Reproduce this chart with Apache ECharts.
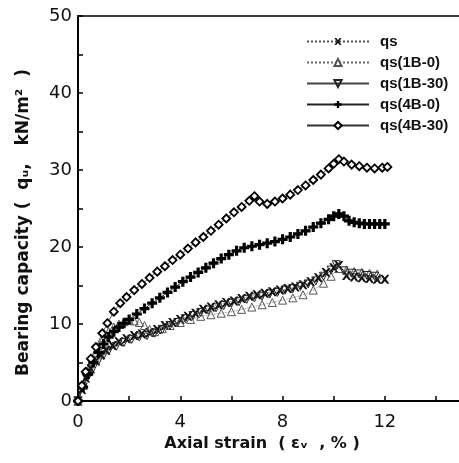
<!DOCTYPE html>
<html>
<head>
<meta charset="utf-8">
<script src="https://cdn.jsdelivr.net/npm/echarts@6/dist/echarts.min.js"></script>
<style>
	html, body { margin: 0; padding: 0; background: #fff; }
	#chart { width: 459px; height: 463px; }
</style>
</head>
<body>
<div id="chart"></div>
<script>
	// 曲线数据（轴向应变 %, 承载力 kN/m2）
	var seriesNames = ['qs', 'qs(1B-0)', 'qs(1B-30)', 'qs(4B-0)', 'qs(4B-30)'];

	var qsStrain = [0, 0.15, 0.3, 0.5, 0.7, 0.9, 1.1, 1.35, 1.6, 1.9, 2.2, 2.5, 2.8, 3.1, 3.4, 3.7, 4.0, 4.3, 4.6, 4.9, 5.2, 5.5, 5.8, 6.1, 6.4, 6.7, 7.0, 7.3, 7.6, 7.9, 8.2, 8.5, 8.8, 9.1, 9.4, 9.7, 10.0, 10.2, 10.5, 10.8, 11.1, 11.4, 11.7, 12.0];
	var qsLoad = [0, 1.5, 3.0, 4.2, 5.2, 6.0, 6.6, 7.2, 7.7, 8.1, 8.5, 8.7, 8.9, 9.3, 9.8, 10.2, 10.6, 11.0, 11.4, 11.9, 12.2, 12.5, 12.8, 13.0, 13.3, 13.6, 13.8, 14.0, 14.2, 14.4, 14.6, 14.8, 15.1, 15.5, 16.0, 16.7, 17.3, 17.6, 16.3, 16.1, 16.0, 15.9, 15.8, 15.8];

	var b10Strain = [0, 0.2, 0.4, 0.6, 0.8, 1.0, 1.2, 1.4, 1.6, 1.8, 2.0, 2.2, 2.4, 2.6, 2.8, 3.0, 3.3, 3.6, 4.0, 4.4, 4.8, 5.2, 5.6, 6.0, 6.4, 6.8, 7.2, 7.6, 8.0, 8.4, 8.8, 9.2, 9.6, 9.9, 10.2, 10.5, 10.8, 11.1, 11.4, 11.7];
	var b10Load = [0, 2.0, 3.8, 5.5, 7.0, 8.2, 9.0, 9.6, 10.0, 10.3, 10.5, 10.4, 10.2, 9.8, 9.3, 9.0, 9.4, 9.8, 10.2, 10.6, 11.0, 11.2, 11.4, 11.6, 11.9, 12.2, 12.5, 12.8, 13.1, 13.4, 13.8, 14.4, 15.3, 16.2, 17.2, 17.0, 16.8, 16.7, 16.6, 16.5];

	var b130Strain = [0, 0.2, 0.4, 0.6, 0.8, 1.0, 1.2, 1.5, 1.8, 2.1, 2.4, 2.7, 3.0, 3.3, 3.6, 3.9, 4.2, 4.5, 4.8, 5.1, 5.4, 5.7, 6.0, 6.3, 6.6, 6.9, 7.2, 7.5, 7.8, 8.1, 8.4, 8.7, 9.0, 9.3, 9.6, 9.9, 10.1, 10.4, 10.7, 11.0, 11.3, 11.6];
	var b130Load = [0, 1.8, 3.2, 4.3, 5.2, 5.9, 6.5, 7.1, 7.6, 8.0, 8.3, 8.5, 8.8, 9.3, 9.8, 10.2, 10.7, 11.1, 11.5, 11.8, 12.1, 12.4, 12.7, 12.9, 13.2, 13.4, 13.6, 13.9, 14.1, 14.4, 14.6, 14.9, 15.2, 15.6, 16.2, 17.0, 17.7, 16.9, 16.6, 16.5, 16.3, 16.2];

	var b40Strain = [0, 0.2, 0.4, 0.6, 0.8, 1.0, 1.2, 1.4, 1.6, 1.8, 2.0, 2.3, 2.6, 2.9, 3.2, 3.5, 3.8, 4.1, 4.4, 4.7, 5.0, 5.3, 5.6, 5.9, 6.2, 6.5, 6.8, 7.1, 7.4, 7.7, 8.0, 8.3, 8.6, 8.9, 9.2, 9.5, 9.8, 10.0, 10.2, 10.4, 10.6, 10.8, 11.0, 11.2, 11.4, 11.6, 11.8, 12.0];
	var b40Load = [0, 1.8, 3.5, 5.0, 6.3, 7.4, 8.3, 9.0, 9.6, 10.1, 10.6, 11.3, 12.0, 12.7, 13.4, 14.1, 14.8, 15.5, 16.1, 16.7, 17.3, 17.9, 18.5, 19.0, 19.5, 19.9, 20.1, 20.3, 20.5, 20.7, 21.0, 21.3, 21.7, 22.1, 22.6, 23.1, 23.6, 24.0, 24.3, 24.0, 23.4, 23.2, 23.1, 23.0, 23.0, 23.0, 23.0, 23.0];

	var b430Strain = [0, 0.15, 0.3, 0.5, 0.7, 0.95, 1.15, 1.4, 1.65, 1.9, 2.2, 2.5, 2.8, 3.1, 3.4, 3.7, 4.0, 4.3, 4.6, 4.9, 5.2, 5.5, 5.8, 6.1, 6.4, 6.7, 6.9, 7.1, 7.4, 7.7, 8.0, 8.3, 8.6, 8.9, 9.2, 9.5, 9.8, 10.0, 10.2, 10.4, 10.7, 11.0, 11.3, 11.6, 11.9, 12.1];
	var b430Load = [0, 2.0, 3.8, 5.5, 7.0, 8.8, 10.1, 11.6, 12.7, 13.5, 14.4, 15.2, 16.0, 16.8, 17.5, 18.3, 19.0, 19.8, 20.6, 21.3, 22.1, 22.9, 23.7, 24.5, 25.2, 26.0, 26.6, 25.9, 25.6, 25.9, 26.3, 26.8, 27.4, 28.0, 28.7, 29.4, 30.2, 30.8, 31.4, 31.1, 30.7, 30.5, 30.3, 30.2, 30.3, 30.4];

	function pairs(xs, ys) {
		var out = [];
		for (var i = 0; i < xs.length; i++) {
			out.push([xs[i], ys[i]]);
		}
		return out;
	}

	var crossPath = 'path://M0,0L2.5,0L5,3L7.5,0L10,0L6.5,5L10,10L7.5,10L5,7L2.5,10L0,10L3.5,5Z';
	var plusPath = 'path://M3.4,0H6.6V3.4H10V6.6H6.6V10H3.4V6.6H0V3.4H3.4Z';
	var axisFont = 'DejaVu Sans';
	var legendFont = 'Liberation Sans';

	var chart = echarts.init(document.getElementById('chart'));
	chart.setOption({
		animation: false,
		grid: {
			left: 78,
			right: 0,
			top: 16,
			bottom: 62
		},
		legend: {
			orient: 'vertical',
			left: 301,
			top: 29,
			itemWidth: 62,
			itemHeight: 9,
			itemGap: 6,
			data: seriesNames,
			textStyle: {
				fontFamily: legendFont,
				fontWeight: 'bold',
				fontSize: 15,
				lineHeight: 14,
				color: '#111',
				padding: [0, 0, 0, 6]
			}
		},
		xAxis: [
			{
				type: 'value',
				min: 0,
				max: 14.9,
				interval: 2,
				name: 'Axial strain  ( \u03B5\u1D65  , % )',
				nameLocation: 'middle',
				nameGap: 33,
				nameTextStyle: {
					fontFamily: axisFont,
					fontWeight: 'bold',
					fontSize: 16,
					color: '#111',
					padding: [0, 13, 0, 0]
				},
				splitLine: { show: false },
				axisLine: { lineStyle: { color: '#000', width: 2 } },
				axisTick: { inside: true, length: 5, lineStyle: { color: '#000', width: 1.5 } },
				axisLabel: {
					margin: 12,
					fontFamily: axisFont,
					fontSize: 18,
					color: '#111',
					showMaxLabel: false,
					formatter: function (v) { return v % 4 === 0 ? String(v) : ''; }
				}
			},
			{
				// 顶部边框
				type: 'value',
				position: 'top',
				min: 0,
				max: 14.9,
				axisLine: { lineStyle: { color: '#000', width: 1.5 } },
				axisTick: { show: false },
				axisLabel: { show: false },
				splitLine: { show: false }
			}
		],
		yAxis: {
			type: 'value',
			min: 0,
			max: 50,
			interval: 5,
			name: 'Bearing capacity (  q\u1D64,   kN/m\u00B2  )',
			nameLocation: 'middle',
			nameGap: 46,
			nameTextStyle: {
				fontFamily: axisFont,
				fontWeight: 'bold',
				fontSize: 17,
				color: '#111',
				padding: [0, 28, 0, 0]
			},
			splitLine: { show: false },
			axisLine: { lineStyle: { color: '#000', width: 2 } },
			axisTick: { inside: true, length: 5, lineStyle: { color: '#000', width: 1.5 } },
			axisLabel: {
				margin: 6,
				fontFamily: axisFont,
				fontSize: 18,
				color: '#111',
				formatter: function (v) { return v % 10 === 0 ? String(v) : ''; }
			}
		},
		series: [
			{
				name: seriesNames[0],
				type: 'line',
				data: pairs(qsStrain, qsLoad),
				symbol: crossPath,
				symbolSize: 9,
				itemStyle: { color: '#111' },
				lineStyle: { color: '#555', width: 0.8, type: 'dotted' }
			},
			{
				name: seriesNames[1],
				type: 'line',
				data: pairs(b10Strain, b10Load),
				symbol: 'triangle',
				symbolSize: 8,
				itemStyle: { color: 'rgba(255,255,255,0)', borderColor: '#555', borderWidth: 1 },
				lineStyle: { color: '#666', width: 0.8, type: 'dotted' }
			},
			{
				name: seriesNames[2],
				type: 'line',
				data: pairs(b130Strain, b130Load),
				symbol: 'triangle',
				symbolRotate: 180,
				symbolSize: 8,
				itemStyle: { color: 'rgba(255,255,255,0)', borderColor: '#222', borderWidth: 1 },
				lineStyle: { color: '#444', width: 0.8 }
			},
			{
				name: seriesNames[3],
				type: 'line',
				data: pairs(b40Strain, b40Load),
				symbol: plusPath,
				symbolSize: 10,
				itemStyle: { color: '#000' },
				lineStyle: { color: '#222', width: 1 }
			},
			{
				name: seriesNames[4],
				type: 'line',
				data: pairs(b430Strain, b430Load),
				symbol: 'diamond',
				symbolSize: 8,
				itemStyle: { color: '#fff', borderColor: '#000', borderWidth: 1.8 },
				lineStyle: { color: '#333', width: 0.8 }
			}
		]
	});
</script>
</body>
</html>
